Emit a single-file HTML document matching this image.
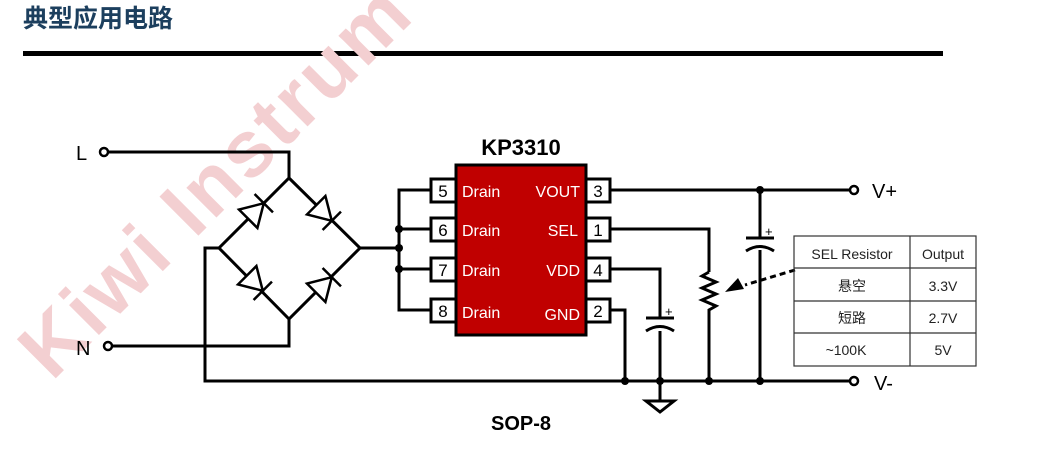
<!DOCTYPE html>
<html><head><meta charset="utf-8"><style>
body{margin:0;width:1045px;height:462px;background:#fff;overflow:hidden;position:relative;font-family:"Liberation Sans","Noto Sans CJK SC",sans-serif}
</style></head><body>
<svg width="1045" height="462" viewBox="0 0 1045 462" xmlns="http://www.w3.org/2000/svg" style="position:absolute;left:0;top:0">
<text x="23" y="27" font-family="'Noto Sans CJK SC',sans-serif" font-size="25" font-weight="bold" fill="#1c3f5e">典型应用电路</text>
<rect x="23" y="51" width="920" height="5" fill="#000"/>
<text x="0" y="0" transform="translate(52,382) rotate(-45)" font-family="'Liberation Sans',sans-serif" font-weight="bold" font-size="80" letter-spacing="3" fill="#f3cfd1">Kiwi Instrum</text>
<g stroke="#000" stroke-width="3" fill="none">
<polyline points="108,152 289,152 289,178"/>
<polyline points="111,346 289,346 289,319"/>
<polygon points="289,178 360,248 289,319 219,248"/>
<polyline points="219,248 205,248 205,381 850,381"/>
<polyline points="360,248 399,248"/>
<polyline points="431,190 399,190 399,310 431,310"/>
<line x1="399" y1="229" x2="431" y2="229"/><line x1="399" y1="269" x2="431" y2="269"/>
<line x1="609" y1="190" x2="850" y2="190"/>
<polyline points="609,229 709,229 709,272"/>
<polyline points="709,272 702,276 716,282 702,288 716,294 702,300 716,306 709,310 709,381"/>
<polyline points="609,269 660,269 660,318"/>
<line x1="660" y1="331" x2="660" y2="400"/>
<line x1="646" y1="318" x2="674" y2="318"/>
<path d="M646,331 Q660,322 674,331"/>
<polyline points="609,310 625,310 625,381"/>
<line x1="760" y1="190" x2="760" y2="238"/><line x1="760" y1="250" x2="760" y2="381"/>
<line x1="746" y1="238" x2="774" y2="238"/>
<path d="M746,251 Q760,242 774,251"/>
<polygon points="646,401 674,401 660,412" stroke-width="3"/>
<line x1="795" y1="270" x2="745" y2="285" stroke-width="3" stroke-dasharray="6,4"/>
</g>
<polygon points="725,292 738,278 744,289" fill="#000"/>
<text x="665" y="316" font-size="13" font-family="'Liberation Sans',sans-serif">+</text>
<text x="765" y="236" font-size="13" font-family="'Liberation Sans',sans-serif">+</text>
<g fill="#000">
<circle cx="399" cy="229" r="4"/><circle cx="399" cy="248" r="4"/><circle cx="399" cy="269" r="4"/>
<circle cx="760" cy="190" r="4"/><circle cx="625" cy="381" r="4"/><circle cx="660" cy="381" r="4"/><circle cx="709" cy="381" r="4"/><circle cx="760" cy="381" r="4"/>
</g>
<g fill="#fff" stroke="#000" stroke-width="2.5">
<circle cx="104" cy="152" r="4"/><circle cx="108" cy="346" r="4"/>
<circle cx="854" cy="190" r="4"/><circle cx="854" cy="381" r="4"/>
</g>
<g stroke="#000" stroke-width="2.5" fill="#fff">
<g transform="translate(256,211) rotate(-45)"><polygon points="-11,-13 -11,13 11,0"/><line x1="11" y1="-13" x2="11" y2="13"/></g>
<g transform="translate(324,213) rotate(45)"><polygon points="-11,-13 -11,13 11,0"/><line x1="11" y1="-13" x2="11" y2="13"/></g>
<g transform="translate(255,283) rotate(45)"><polygon points="-11,-13 -11,13 11,0"/><line x1="11" y1="-13" x2="11" y2="13"/></g>
<g transform="translate(324,285) rotate(-45)"><polygon points="-11,-13 -11,13 11,0"/><line x1="11" y1="-13" x2="11" y2="13"/></g>
</g>
<text x="76" y="160" font-size="20">L</text>
<text x="76" y="355" font-size="20">N</text>
<text x="872" y="198" font-size="20">V+</text>
<text x="874" y="390" font-size="20">V-</text>
<text x="521" y="155" font-size="22" font-weight="bold" text-anchor="middle">KP3310</text>
<text x="521" y="430" font-size="20" font-weight="bold" text-anchor="middle">SOP-8</text>
<rect x="456" y="165" width="130" height="170" fill="#c00000" stroke="#000" stroke-width="3"/>
<g fill="#fff" stroke="#000" stroke-width="3">
<rect x="431" y="179" width="25" height="23"/><rect x="431" y="218" width="25" height="23"/><rect x="431" y="258" width="25" height="23"/><rect x="431" y="299" width="25" height="23"/>
<rect x="586" y="179" width="24" height="23"/><rect x="586" y="218" width="24" height="23"/><rect x="586" y="258" width="24" height="23"/><rect x="586" y="299" width="24" height="23"/>
</g>
<g font-size="17" text-anchor="middle" fill="#000">
<text x="443" y="197">5</text><text x="443" y="236">6</text><text x="443" y="276">7</text><text x="443" y="317">8</text>
<text x="598" y="197">3</text><text x="598" y="236">1</text><text x="598" y="276">4</text><text x="598" y="317">2</text>
</g>
<g font-size="16" fill="#fff">
<text x="462" y="197">Drain</text><text x="462" y="236">Drain</text><text x="462" y="276">Drain</text><text x="462" y="318">Drain</text>
<g text-anchor="end"><text x="580" y="197">VOUT</text><text x="578" y="236">SEL</text><text x="580" y="276">VDD</text><text x="580" y="320">GND</text></g>
</g>
<g stroke="#333" stroke-width="1.2" fill="none">
<rect x="794" y="236" width="182" height="130"/>
<line x1="910" y1="236" x2="910" y2="366"/>
<line x1="794" y1="268" x2="976" y2="268"/><line x1="794" y1="301" x2="976" y2="301"/><line x1="794" y1="333" x2="976" y2="333"/>
</g>
<g font-size="14" fill="#222" text-anchor="middle">
<text x="852" y="259">SEL Resistor</text><text x="943" y="259">Output</text>
<text x="852" y="291">悬空</text><text x="943" y="291">3.3V</text>
<text x="852" y="323">短路</text><text x="943" y="323">2.7V</text>
<text x="846" y="355">~100K</text><text x="943" y="355">5V</text>
</g>
</svg>
</body></html>
